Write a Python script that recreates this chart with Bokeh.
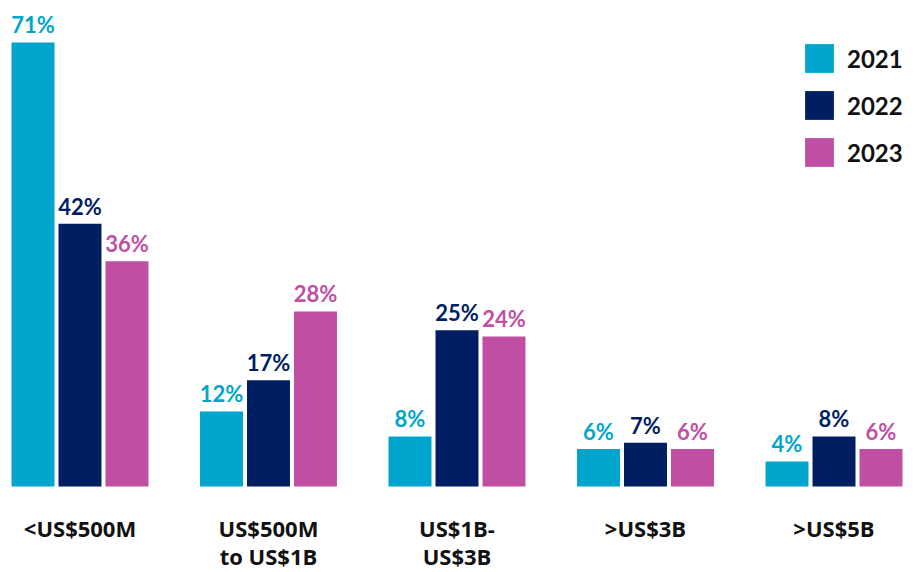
from bokeh.plotting import figure
from bokeh.models import ColumnDataSource, Legend, LegendItem, Range1d
from bokeh.core.properties import value
from bokeh.embed import file_html
from bokeh.resources import INLINE

categories = ["<US$500M", "US$500M\nto US$1B", "US$1B-\nUS$3B", ">US$3B", ">US$5B"]
years = ["2021", "2022", "2023"]
v2021 = [71, 12, 8, 6, 4]
v2022 = [42, 17, 25, 7, 8]
v2023 = [36, 28, 24, 6, 6]
colors = ["#00A5CE", "#001E62", "#C04FA4"]

series = [v2021, v2022, v2023]
offsets = [-0.2493, 0.0, 0.2493]
bar_w = 0.228

p = figure(width=916, height=572, output_backend="svg", toolbar_location=None,
           x_range=Range1d(-0.42175, 4.43767), y_range=Range1d(-13.752, 77.716),
           min_border=0, min_border_left=0, min_border_right=0,
           min_border_top=0, min_border_bottom=0)
p.xaxis.visible = False
p.yaxis.visible = False
p.grid.visible = False
p.outline_line_color = None
p.background_fill_color = "white"
p.border_fill_color = "white"

renderers = []
for vals, off, col in zip(series, offsets, colors):
    xs = [i + off for i in range(len(vals))]
    src = ColumnDataSource(dict(x=xs, top=vals, lab=[f"{v}%" for v in vals]))
    r = p.vbar(x="x", top="top", bottom=0, width=bar_w, source=src,
               fill_color=col, line_color=None)
    renderers.append(r)
    p.text(x="x", y="top", text="lab", source=src, text_color=col,
           text_font=value("Lato"), text_font_style="bold", text_font_size="22px",
           text_align="center", text_baseline="bottom", y_offset=-4)

# category labels, one text glyph per line
lines = [c.split("\n") for c in categories]
for k, yoff in enumerate([41, 69]):
    xs = [i for i, ls in enumerate(lines) if len(ls) > k]
    ts = [ls[k] for ls in lines if len(ls) > k]
    csrc = ColumnDataSource(dict(x=xs, y=[0] * len(xs), t=ts))
    p.text(x="x", y="y", text="t", source=csrc, text_color="#111111",
           text_font=value("Open Sans"), text_font_style="bold", text_font_size="22px",
           text_align="center", text_baseline="middle", y_offset=yoff)

legend = Legend(items=[LegendItem(label=y, renderers=[r]) for y, r in zip(years, renderers)],
                location=(801, 402), glyph_width=36, glyph_height=36, label_height=36,
                spacing=11, padding=0, margin=0, label_standoff=10,
                label_text_font="Lato", label_text_font_style="bold",
                label_text_font_size="24px", label_text_color="#111111",
                border_line_color=None, background_fill_alpha=0)
p.add_layout(legend)

open("out.html", "w").write(file_html(p, INLINE))
